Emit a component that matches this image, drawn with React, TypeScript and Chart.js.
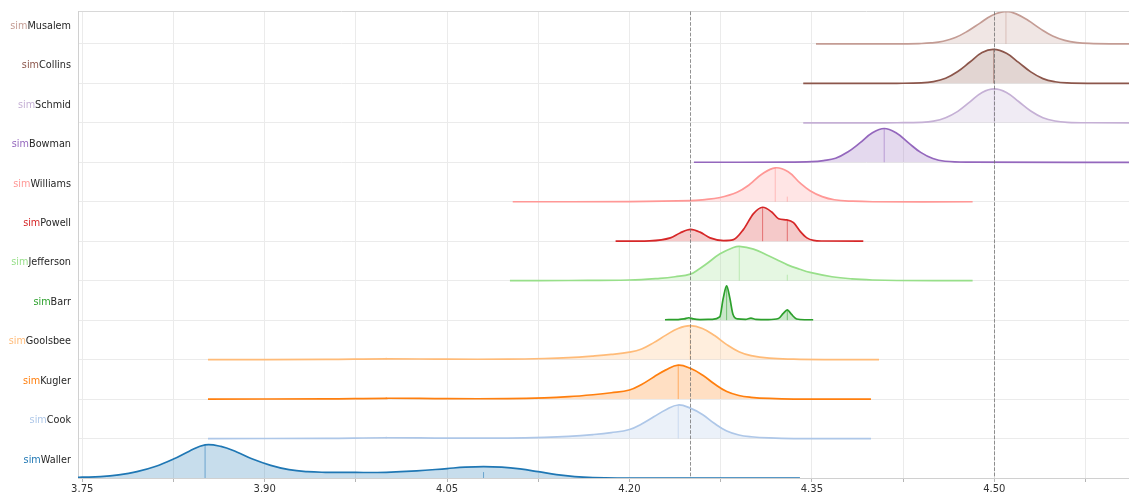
import React, { useEffect, useRef } from "react";
import { Chart, registerables } from "chart.js";
Chart.register(...registerables);

// ---- categories (bottom row first) ----
const speakers = ["Waller", "Cook", "Kugler", "Goolsbee", "Barr", "Jefferson", "Powell", "Williams", "Bowman", "Schmid", "Collins", "Musalem"];
const labelPrefix = "sim";
const colors = ["#1f77b4", "#aec7e8", "#ff7f0e", "#ffbb78", "#2ca02c", "#98df8a", "#d62728", "#ff9896", "#9467bd", "#c5b0d5", "#8c564b", "#c49c94"];
// spiky rows keep a monotone curve, the rest a smooth spline
const monotoneRows = [4, 6];

// ---- density curves: x value, relative height (fraction of a row) ----
const wallerX = [3.745, 3.75, 3.765, 3.78, 3.795, 3.81, 3.825, 3.838, 3.851, 3.864, 3.877, 3.89, 3.905, 3.92, 3.935, 3.95, 3.975, 4.0, 4.025, 4.05, 4.065, 4.08, 4.095, 4.11, 4.125, 4.14, 4.155, 4.17, 4.19, 4.3402];
const wallerH = [0.015, 0.02, 0.035, 0.08, 0.16, 0.29, 0.48, 0.68, 0.84, 0.8, 0.66, 0.48, 0.32, 0.21, 0.16, 0.145, 0.14, 0.145, 0.18, 0.24, 0.275, 0.29, 0.275, 0.23, 0.16, 0.085, 0.035, 0.01, 0, 0];

const cookX = [3.8534, 3.95, 4.0, 4.05, 4.1, 4.13, 4.15, 4.17, 4.185, 4.2, 4.21, 4.22, 4.23, 4.2401, 4.25, 4.26, 4.27, 4.28, 4.29, 4.3, 4.315, 4.335, 4.3986];
const cookH = [0, 0.005, 0.02, 0.01, 0.012, 0.03, 0.055, 0.1, 0.15, 0.23, 0.37, 0.55, 0.73, 0.85, 0.77, 0.61, 0.38, 0.19, 0.09, 0.045, 0.015, 0, 0];

const kuglerX = [3.8534, 3.95, 4.0, 4.05, 4.1, 4.13, 4.15, 4.17, 4.185, 4.2, 4.21, 4.22, 4.23, 4.2401, 4.25, 4.26, 4.27, 4.28, 4.29, 4.3, 4.315, 4.335, 4.3986];
const kuglerH = [0, 0.005, 0.02, 0.01, 0.012, 0.03, 0.06, 0.11, 0.16, 0.23, 0.37, 0.56, 0.74, 0.86, 0.78, 0.61, 0.38, 0.19, 0.09, 0.045, 0.015, 0, 0];

const goolsbeeX = [3.8534, 3.95, 4.0, 4.05, 4.1, 4.13, 4.15, 4.17, 4.185, 4.2, 4.21, 4.22, 4.23, 4.24, 4.25, 4.26, 4.27, 4.28, 4.29, 4.3, 4.315, 4.335, 4.36, 4.4052];
const goolsbeeH = [0, 0.005, 0.02, 0.01, 0.012, 0.028, 0.05, 0.09, 0.13, 0.19, 0.27, 0.43, 0.62, 0.79, 0.86, 0.79, 0.61, 0.38, 0.2, 0.1, 0.035, 0.01, 0, 0];

const barrX = [4.2292, 4.24, 4.245, 4.2488, 4.2525, 4.258, 4.268, 4.2742, 4.2771, 4.2799, 4.2826, 4.2851, 4.289, 4.2955, 4.2999, 4.304, 4.314, 4.3225, 4.3265, 4.3298, 4.3331, 4.3375, 4.344, 4.3511];
const barrH = [0.01, 0.015, 0.03, 0.06, 0.03, 0.015, 0.02, 0.08, 0.55, 0.87, 0.55, 0.15, 0.03, 0.02, 0.05, 0.02, 0.015, 0.04, 0.17, 0.26, 0.15, 0.03, 0.01, 0.01];

const jeffersonX = [4.1017, 4.15, 4.2, 4.225, 4.2375, 4.25, 4.257, 4.2635, 4.2745, 4.2855, 4.2903, 4.302, 4.313, 4.322, 4.33, 4.34, 4.3485, 4.3665, 4.383, 4.4, 4.42, 4.4822];
const jeffersonH = [0, 0.004, 0.017, 0.06, 0.1, 0.165, 0.29, 0.43, 0.68, 0.84, 0.87, 0.8, 0.65, 0.52, 0.4, 0.29, 0.21, 0.1, 0.045, 0.017, 0.004, 0];

const powellX = [4.1886, 4.2166, 4.2336, 4.2416, 4.2503, 4.258, 4.2663, 4.2773, 4.2855, 4.2938, 4.302, 4.3095, 4.317, 4.3226, 4.3294, 4.3349, 4.3404, 4.3459, 4.3514, 4.3586, 4.3923];
const powellH = [0, 0.01, 0.085, 0.21, 0.3, 0.23, 0.085, 0.017, 0.04, 0.3, 0.7, 0.86, 0.74, 0.57, 0.54, 0.47, 0.25, 0.085, 0.02, 0.005, 0];

const williamsX = [4.104, 4.2, 4.25, 4.262, 4.2735, 4.2885, 4.2985, 4.3085, 4.3199, 4.3305, 4.3405, 4.3485, 4.3585, 4.3685, 4.3835, 4.4, 4.4822];
const williamsH = [0, 0.004, 0.026, 0.055, 0.1, 0.24, 0.43, 0.69, 0.86, 0.76, 0.47, 0.28, 0.13, 0.05, 0.013, 0, 0];

const bowmanX = [4.253, 4.33, 4.35, 4.3595, 4.3695, 4.3795, 4.3895, 4.3995, 4.4095, 4.4195, 4.4295, 4.4395, 4.4495, 4.4595, 4.48, 4.65];
const bowmanH = [0, 0.004, 0.017, 0.043, 0.1, 0.26, 0.49, 0.74, 0.855, 0.74, 0.49, 0.25, 0.094, 0.026, 0.004, 0];

const schmidX = [4.3429, 4.4, 4.42, 4.44, 4.45, 4.46, 4.47, 4.48, 4.49, 4.5, 4.51, 4.52, 4.53, 4.54, 4.55, 4.56, 4.58, 4.65];
const schmidH = [0, 0, 0.001, 0.012, 0.043, 0.13, 0.29, 0.53, 0.77, 0.86, 0.77, 0.54, 0.3, 0.13, 0.045, 0.012, 0.001, 0];

const collinsX = [4.3429, 4.4, 4.42, 4.44, 4.45, 4.46, 4.47, 4.48, 4.49, 4.4995, 4.51, 4.52, 4.53, 4.54, 4.55, 4.56, 4.58, 4.65];
const collinsH = [0, 0, 0.001, 0.013, 0.045, 0.13, 0.3, 0.54, 0.78, 0.86, 0.76, 0.53, 0.29, 0.12, 0.04, 0.011, 0.001, 0];

const musalemX = [4.3534, 4.4, 4.428, 4.438, 4.448, 4.458, 4.468, 4.478, 4.488, 4.498, 4.5096, 4.518, 4.528, 4.538, 4.548, 4.558, 4.568, 4.578, 4.598, 4.65];
const musalemH = [0, 0, 0.002, 0.007, 0.023, 0.066, 0.16, 0.32, 0.52, 0.72, 0.82, 0.76, 0.59, 0.38, 0.2, 0.09, 0.033, 0.01, 0.001, 0];

// ---- median lines and secondary marks ----
const medianX = [3.851, 4.2401, 4.2401, 4.25, 4.2799, 4.2903, 4.3095, 4.3199, 4.4095, 4.5, 4.4995, 4.5096];
const medianH = [0.84, 0.85, 0.86, 0.86, 0.87, 0.87, 0.86, 0.86, 0.855, 0.86, 0.86, 0.82];
const markX = [4.08, 4.0, 4.0, 4.0, 4.3298, 4.3298, 4.3298, 4.3298, null, null, null, null];
const markH = [0.15, 0.05, 0.05, 0.05, 0.26, 0.15, 0.53, 0.13, 0, 0, 0, 0];

// ---- reference lines and axis ticks ----
const refLines = [4.25, 4.5];
const xTickValues = [3.75, 3.825, 3.9, 3.975, 4.05, 4.125, 4.2, 4.275, 4.35, 4.425, 4.5, 4.575];
const xTickLabels = ["3.75", "", "3.90", "", "4.05", "", "4.20", "", "4.35", "", "4.50", ""];
const yGridValues = [0, 1, 2, 3, 4, 5, 6, 7, 8, 9, 10, 11];
const X_MIN = 3.7465;
const X_MAX = 4.6108;
const Y_MAX = 11.82;

const ridgeX = [wallerX, cookX, kuglerX, goolsbeeX, barrX, jeffersonX, powellX, williamsX, bowmanX, schmidX, collinsX, musalemX];
const ridgeH = [wallerH, cookH, kuglerH, goolsbeeH, barrH, jeffersonH, powellH, williamsH, bowmanH, schmidH, collinsH, musalemH];

function rgba(hex: string, a: number) {
  const n = parseInt(hex.slice(1), 16);
  return `rgba(${(n >> 16) & 255},${(n >> 8) & 255},${n & 255},${a})`;
}

const FONT = "'DejaVu Sans', sans-serif";

const labelPlugin = {
  id: "rowLabels",
  afterDraw(chart: any) {
    const { ctx } = chart;
    const y = chart.scales.y;
    ctx.save();
    ctx.font = `9.7px ${FONT}`;
    ctx.textBaseline = "middle";
    ctx.textAlign = "left";
    const right = 71;
    speakers.forEach((name, i) => {
      const py = y.getPixelForValue(i + 0.5) + 2;
      const wName = ctx.measureText(name).width;
      const wPre = ctx.measureText(labelPrefix).width;
      ctx.fillStyle = "#262626";
      ctx.fillText(name, right - wName, py);
      ctx.fillStyle = colors[i];
      ctx.fillText(labelPrefix, right - wName - wPre, py);
    });
    ctx.restore();
  },
};

const refLinePlugin = {
  id: "refLines",
  afterDatasetsDraw(chart: any) {
    const { ctx, chartArea } = chart;
    const x = chart.scales.x;
    ctx.save();
    ctx.strokeStyle = "rgba(110,110,110,0.75)";
    ctx.lineWidth = 1;
    ctx.setLineDash([3.7, 1.6]);
    refLines.forEach((v) => {
      const px = Math.round(x.getPixelForValue(v)) + 0.5;
      ctx.beginPath();
      ctx.moveTo(px, chartArea.top);
      ctx.lineTo(px, chartArea.bottom);
      ctx.stroke();
    });
    ctx.restore();
  },
};

export default function App() {
  const ref = useRef<HTMLCanvasElement | null>(null);

  useEffect(() => {
    if (!ref.current) return;
    const datasets: any[] = [];
    speakers.forEach((_, i) => {
      const c = colors[i];
      const mono = monotoneRows.includes(i);
      datasets.push({
        label: speakers[i],
        data: ridgeX[i].map((x, j) => ({ x, y: i + ridgeH[i][j] })),
        borderColor: c,
        backgroundColor: rgba(c, 0.25),
        borderWidth: 1.7,
        pointRadius: 0,
        fill: { value: i },
        cubicInterpolationMode: mono ? "monotone" : "default",
        tension: mono ? 0 : 0.4,
        order: i,
      });
      datasets.push({
        label: speakers[i] + " median",
        data: [
          { x: medianX[i], y: i },
          { x: medianX[i], y: i + medianH[i] },
        ],
        borderColor: rgba(c, 0.55),
        borderWidth: 1,
        pointRadius: 0,
        fill: false,
        tension: 0,
        order: i - 0.5,
      });
      if (markX[i] !== null) {
        datasets.push({
          label: speakers[i] + " mark",
          data: [
            { x: markX[i], y: i },
            { x: markX[i], y: i + markH[i] },
          ],
          borderColor: rgba(c, 0.55),
          borderWidth: 1,
          pointRadius: 0,
          fill: false,
          tension: 0,
          order: i - 0.5,
        });
      }
    });

    const chart = new Chart(ref.current, {
      type: "line",
      data: { datasets },
      plugins: [labelPlugin, refLinePlugin],
      options: {
        animation: false,
        responsive: false,
        devicePixelRatio: 1,
        layout: { padding: { top: 11.5, left: 0, right: 0, bottom: 0 } },
        plugins: { legend: { display: false }, tooltip: { enabled: false } },
        scales: {
          x: {
            type: "linear",
            min: X_MIN,
            max: X_MAX,
            afterBuildTicks: (s: any) => {
              s.ticks = xTickValues.map((v) => ({ value: v }));
            },
            afterFit: (s: any) => {
              s.height = 16;
            },
            ticks: {
              autoSkip: false,
              maxRotation: 0,
              padding: 1,
              color: "#333333",
              font: { family: FONT, size: 10 },
              callback: (_v: any, idx: number) => xTickLabels[idx],
            },
            grid: {
              color: "#ebebeb",
              lineWidth: 1,
              tickLength: 4,
              tickColor: "#b5b5b5",
            },
            border: { color: "#d0d0d0", width: 1 },
          },
          y: {
            type: "linear",
            min: 0,
            max: Y_MAX,
            afterBuildTicks: (s: any) => {
              s.ticks = yGridValues.concat([Y_MAX]).map((v) => ({ value: v }));
            },
            afterFit: (s: any) => {
              s.width = 78;
            },
            ticks: { display: false },
            grid: {
              drawTicks: false,
              color: (ctx: any) => (ctx.tick && ctx.tick.value > 11.5 ? "#d8d8d8" : "#ebebeb"),
              lineWidth: 1,
            },
            border: { color: "#d0d0d0", width: 1 },
          },
        },
      },
    });
    return () => chart.destroy();
  }, []);

  return (
    <div style={{ position: "fixed", left: 0, top: 0, width: 1129, height: 494, background: "#fff" }}>
      <canvas ref={ref} width={1129} height={494} style={{ display: "block" }} />
    </div>
  );
}
